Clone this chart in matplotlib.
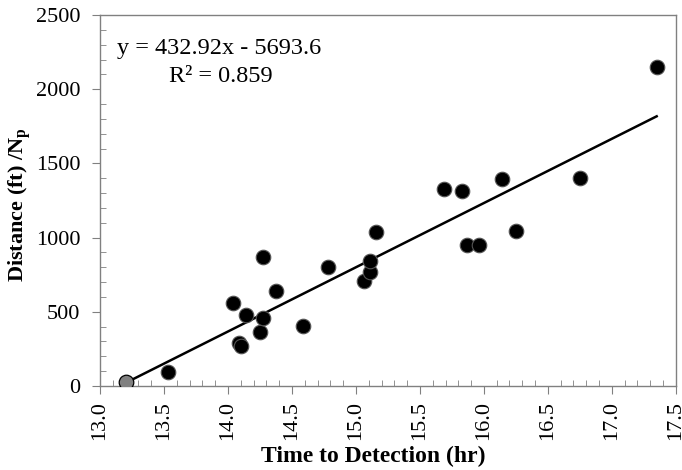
"""Distance/Np vs time to detection, with linear fit."""

import matplotlib

matplotlib.use("Agg")
import matplotlib.pyplot as plt  # noqa: E402
import numpy as np
from matplotlib.ticker import MultipleLocator

plt.rcParams["font.family"] = ["Liberation Serif", "DejaVu Serif"]
plt.rcParams["mathtext.fontset"] = "custom"
plt.rcParams["mathtext.rm"] = "Liberation Serif"
plt.rcParams["mathtext.bf"] = "Liberation Serif:bold"

# detection time (hr) and distance / Np
time_hr = [13.53, 14.04, 14.09, 14.10, 14.14, 14.25, 14.27, 14.27, 14.375,
           14.59, 14.78, 15.06, 15.11, 15.11, 15.16, 15.69, 15.83, 15.87,
           15.96, 16.14, 16.25, 16.75, 17.35]
dist_np = [95, 561, 288, 272, 478, 366, 460, 871, 640,
           404, 800, 710, 766, 842, 1035, 1325, 1314, 952,
           952, 1397, 1046, 1400, 2152]

# reference point drawn in grey
ref_time = [13.2]
ref_dist = [30]

slope = 432.92
intercept = -5693.6
r2 = 0.859

GREY = "#808080"

fig = plt.figure(figsize=(6.82, 4.70), dpi=100)
ax = fig.add_axes([0.1466, 0.1787, 0.8444, 0.7893])

x_fit = np.array([min(ref_time), max(time_hr)])
ax.plot(x_fit, slope * x_fit + intercept, color="black", lw=1.8, zorder=2)

ax.scatter(time_hr, dist_np, s=110, color="black", edgecolors="#555555",
           linewidths=0.8, zorder=3)
ax.scatter(ref_time, ref_dist, s=110, color=GREY, edgecolors="black",
           linewidths=0.9, zorder=4)

ax.set_xlim(13.0, 17.5)
ax.set_ylim(0, 2500)
ax.xaxis.set_major_locator(MultipleLocator(0.5))
ax.xaxis.set_minor_locator(MultipleLocator(0.1))
ax.yaxis.set_major_locator(MultipleLocator(500))
ax.yaxis.set_minor_locator(MultipleLocator(100))
ax.xaxis.set_major_formatter(matplotlib.ticker.FormatStrFormatter("%.1f"))

for s in ax.spines.values():
    s.set_color(GREY)
    s.set_linewidth(1.0)
ax.tick_params(which="major", direction="out", length=6, color=GREY,
               labelsize=16)
ax.tick_params(which="minor", direction="in", length=4, color=GREY)
ax.tick_params(axis="y", which="major", pad=8)
ax.tick_params(axis="x", which="major", labelrotation=90, pad=5)

ax.text(0.03, 0.91, f"y = {slope:.2f}x - {-intercept:.1f}", transform=ax.transAxes,
        fontsize=17.5, ha="left", va="center")
ax.text(0.21, 0.835, f"R² = {r2:.3f}", transform=ax.transAxes,
        fontsize=17.5, ha="center", va="center")

ax.set_xlabel("Time to Detection (hr)", fontsize=17, fontweight="bold")
ax.set_ylabel(r"Distance (ft) /N$_\mathbf{p}$", fontsize=16, fontweight="bold")
ax.xaxis.set_label_coords(0.474, -0.19)
ax.yaxis.set_label_coords(-0.138, 0.49)
ax.yaxis.label.set_va("center")
ax.xaxis.label.set_va("center")

fig.savefig("out.png", dpi=100, facecolor="white")
